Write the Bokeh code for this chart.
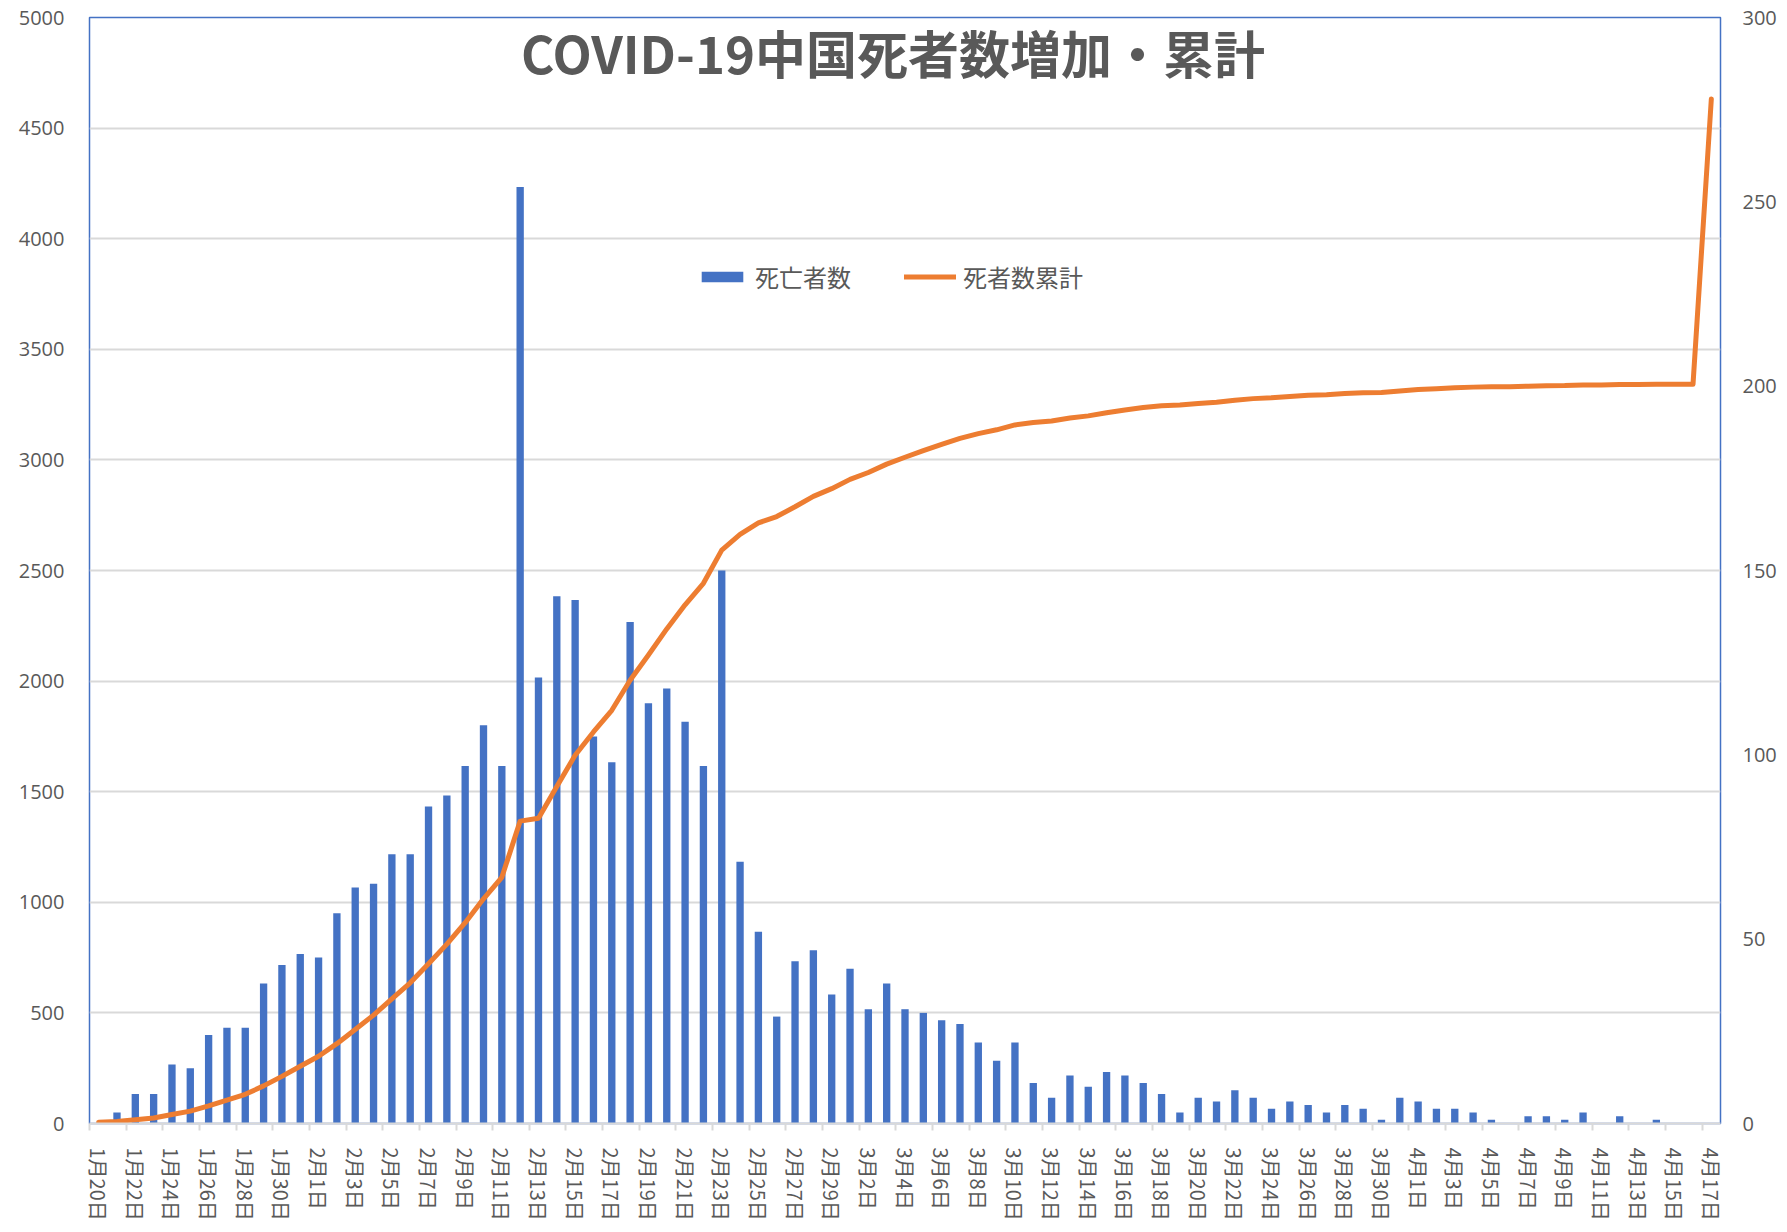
import pandas as pd
from bokeh.plotting import figure
from bokeh.models import (Range1d, LinearAxis, FixedTicker, Legend, LegendItem,
                          Label, ColumnDataSource)
from bokeh.embed import file_html
from bokeh.resources import INLINE

# ---------------- data ----------------
dates = [f"{d.month}月{d.day}日" for d in pd.date_range("2020-01-20", "2020-04-17")]

daily_deaths = [
    0, 3, 8, 8, 16, 15, 24, 26, 26, 38, 43, 46,            # 1/20 - 1/31
    45, 57, 64, 65, 73, 73, 86, 89, 97, 108, 97, 254,      # 2/1 - 2/12
    121, 143, 142, 105, 98, 136, 114, 118, 109, 97, 150,   # 2/13 - 2/23
    71, 52, 29, 44, 47, 35,                                # 2/24 - 2/29
    42, 31, 38, 31, 30, 28, 27, 22, 17, 22, 11, 7, 13, 10, 14, 13,  # 3/1 - 3/16
    11, 8, 3, 7, 6, 9, 7, 4, 6, 5, 3, 5, 4, 1, 7,          # 3/17 - 3/31
    6, 4, 4, 3, 1, 0, 2, 2, 1, 3, 0, 2, 0, 1, 0, 0, 0,     # 4/1 - 4/17
]

cumulative_deaths = [
    6, 9, 17, 25, 41, 56, 80, 106, 132, 170, 213, 259,
    304, 361, 425, 490, 563, 636, 722, 811, 908, 1016, 1113, 1367,
    1380, 1523, 1665, 1770, 1868, 2004, 2118, 2236, 2345, 2442, 2592,
    2663, 2715, 2744, 2788, 2835, 2870,
    2912, 2943, 2981, 3012, 3042, 3070, 3097, 3119, 3136, 3158, 3169, 3176, 3189, 3199, 3213, 3226,
    3237, 3245, 3248, 3255, 3261, 3270, 3277, 3281, 3287, 3292, 3295, 3300, 3304, 3305, 3312,
    3318, 3322, 3326, 3329, 3331, 3331, 3333, 3335, 3336, 3339, 3339, 3341, 3341, 3342, 3342, 3342, 4632,
]

title_text = "COVID-19中国死者数増加・累計"
bar_label = "死亡者数"
line_label = "死者数累計"
left_ticks = list(range(0, 5001, 500))
right_ticks = list(range(0, 301, 50))

# ---------------- figure ----------------
idx = list(range(len(dates)))
src = ColumnDataSource(dict(x=idx, daily=daily_deaths, cum=cumulative_deaths))

GRAY_TXT = "#595959"
BLUE = "#4472C4"
ORANGE = "#ED7D31"

p = figure(width=1779, height=1230,
           x_range=Range1d(-0.5, len(dates) - 0.5),
           y_range=Range1d(0, 5000),
           output_backend="svg", toolbar_location=None,
           min_border_left=89, min_border_right=59,
           min_border_top=17, min_border_bottom=107)
p.extra_y_ranges = {"daily": Range1d(0, 300)}

p.outline_line_color = BLUE
p.outline_line_width = 1.5
p.background_fill_color = "white"
p.border_fill_color = "white"

p.xgrid.visible = False
p.ygrid.grid_line_color = "#d9d9d9"
p.ygrid.grid_line_width = 2

bars = p.vbar(x="x", top="daily", width=0.4, source=src, y_range_name="daily",
              fill_color=BLUE, line_color=None)
line = p.line(x="x", y="cum", source=src, line_color=ORANGE, line_width=5,
              line_join="round", line_cap="round")

# left axis
yax = p.yaxis[0]
yax.ticker = FixedTicker(ticks=left_ticks)
yax.axis_line_color = None
yax.major_tick_out = 0
yax.major_tick_in = 0
yax.minor_tick_out = 0
yax.minor_tick_in = 0
yax.major_label_standoff = 25
yax.major_label_text_font = "Open Sans"
yax.major_label_text_font_size = "20px"
yax.major_label_text_color = GRAY_TXT

# right axis
rax = LinearAxis(y_range_name="daily", ticker=FixedTicker(ticks=right_ticks))
rax.axis_line_color = None
rax.major_tick_out = 0
rax.major_tick_in = 0
rax.minor_tick_out = 0
rax.minor_tick_in = 0
rax.major_label_standoff = 22
rax.major_label_text_font = "Open Sans"
rax.major_label_text_font_size = "20px"
rax.major_label_text_color = GRAY_TXT
p.add_layout(rax, "right")

# x axis
label_pos = idx[::2]
xax = p.xaxis[0]
xax.ticker = FixedTicker(ticks=label_pos, minor_ticks=[i - 0.5 for i in label_pos])
xax.major_label_overrides = {i: dates[i] for i in label_pos}
xax.major_label_orientation = "vertical"
xax.major_tick_out = 0
xax.major_tick_in = 0
xax.minor_tick_out = 7
xax.minor_tick_in = 0
xax.minor_tick_line_color = "#d9d9d9"
xax.minor_tick_line_width = 2
xax.axis_line_color = "#d9d9d9"
xax.axis_line_width = 2
xax.major_label_standoff = 17
xax.major_label_text_font = "Noto Sans CJK JP"
xax.major_label_text_font_size = "20px"
xax.major_label_text_color = GRAY_TXT

# legend
legend = Legend(items=[LegendItem(label=bar_label, renderers=[bars]),
                       LegendItem(label=line_label, renderers=[line])],
                orientation="horizontal", location=(607, 829),
                glyph_width=52, glyph_height=13, label_standoff=7, spacing=53,
                padding=0, margin=0, border_line_color=None,
                background_fill_alpha=0,
                label_text_font="Noto Sans CJK JP", label_text_font_size="24px",
                label_text_color=GRAY_TXT)
p.add_layout(legend)

# title inside plot area
title = Label(x=43.35, y=4845, text=title_text, text_align="center",
              text_baseline="middle", text_font="Noto Sans CJK JP",
              text_font_size="51px", text_font_style="bold",
              text_color=GRAY_TXT)
p.add_layout(title)

open("out.html", "w").write(file_html(p, INLINE))
